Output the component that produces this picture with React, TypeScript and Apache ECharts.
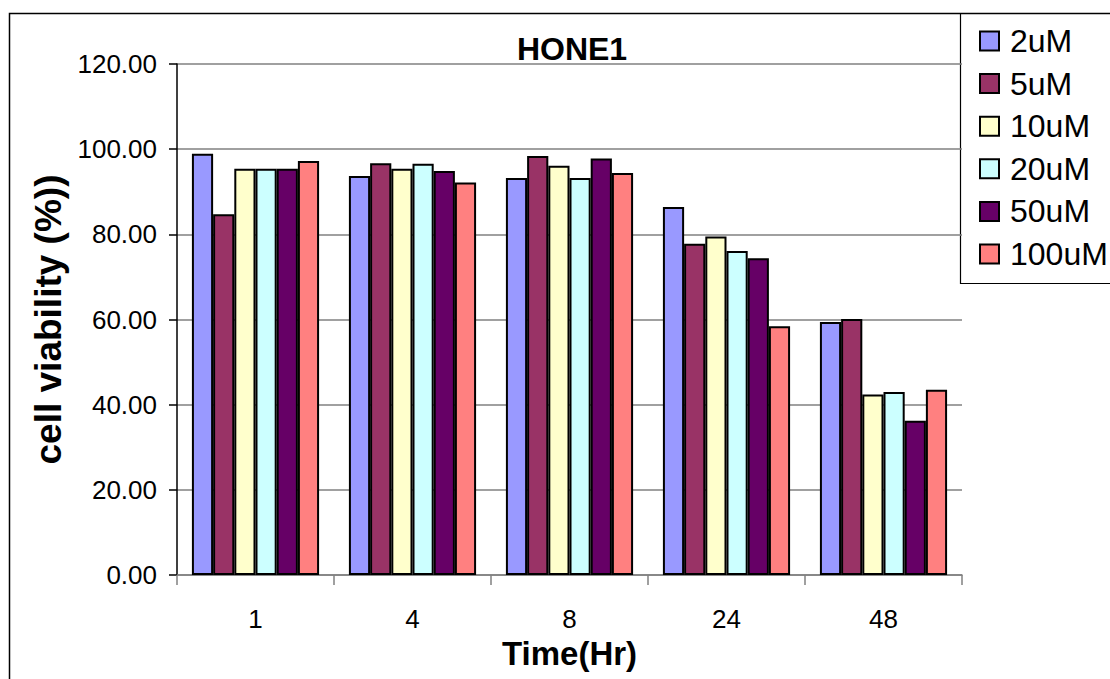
import React, { useEffect, useRef } from "react";
import * as echarts from "echarts";

const categories = ["1", "4", "8", "24", "48"];
const seriesNames = ["2uM", "5uM", "10uM", "20uM", "50uM", "100uM"];
const v2uM = [98.9, 93.7, 93.2, 86.4, 59.4];
const v5uM = [84.7, 96.7, 98.4, 77.8, 60.1];
const v10uM = [95.4, 95.4, 96.1, 79.5, 42.4];
const v20uM = [95.4, 96.6, 93.2, 76.1, 43.0];
const v50uM = [95.4, 94.9, 97.8, 74.4, 36.2];
const v100uM = [97.2, 92.2, 94.4, 58.4, 43.5];
const colors = ["#9999FF", "#993366", "#FFFFCC", "#CCFFFF", "#660066", "#FF8080"];

const FONT = "'Liberation Sans', Arial, sans-serif";

export default function App() {
  const ref = useRef<HTMLDivElement>(null);
  useEffect(() => {
    if (!ref.current) return;
    const chart = echarts.init(ref.current, undefined, { renderer: "svg" });
    const values = [v2uM, v5uM, v10uM, v20uM, v50uM, v100uM];
    chart.setOption({
      animation: false,
      backgroundColor: "#ffffff",
      textStyle: { fontFamily: FONT },
      title: {
        text: "HONE1",
        left: 567,
        top: 28,
        textAlign: "center",
        textStyle: { fontFamily: FONT, fontWeight: "bold", fontSize: 32, color: "#000" },
      },
      grid: { left: 177, right: 148, top: 64, bottom: 104, containLabel: false },
      legend: {
        orient: "vertical",
        left: 979,
        top: 25,
        padding: 0,
        itemWidth: 19,
        itemHeight: 19,
        itemGap: 10.6,
        icon: "rect",
        itemStyle: { borderColor: "#000", borderWidth: 2 },
        textStyle: { fontFamily: FONT, fontSize: 32, color: "#000", lineHeight: 32, padding: [0, 0, 0, 6] },
        data: seriesNames,
      },
      xAxis: {
        type: "category",
        data: categories,
        name: "Time(Hr)",
        nameLocation: "middle",
        nameGap: 60,
        nameTextStyle: { fontFamily: FONT, fontWeight: "bold", fontSize: 33, color: "#000" },
        axisLine: { lineStyle: { color: "#808080", width: 1.5 } },
        axisTick: { show: true, length: 10, lineStyle: { color: "#808080", width: 1.5 } },
        axisLabel: { fontFamily: FONT, fontSize: 26, color: "#000", margin: 31 },
      },
      yAxis: {
        type: "value",
        min: 0,
        max: 120,
        interval: 20,
        name: "cell viability (%))",
        nameLocation: "middle",
        nameGap: 96,
        nameTextStyle: { fontFamily: FONT, fontWeight: "bold", fontSize: 37, color: "#000" },
        axisLine: { show: true, lineStyle: { color: "#000", width: 1.5 } },
        axisTick: { show: true, length: 8, lineStyle: { color: "#000", width: 1.5 } },
        axisLabel: {
          fontFamily: FONT,
          fontSize: 26,
          color: "#000",
          margin: 20,
          formatter: (v: number) => v.toFixed(2),
        },
        splitLine: { show: true, lineStyle: { color: "#808080", width: 1.5 } },
      },
      series: seriesNames.map((n, i) => ({
        name: n,
        type: "bar",
        data: values[i],
        barGap: "0%",
        barCategoryGap: "19%",
        itemStyle: { color: colors[i], borderColor: "#000", borderWidth: 2 },
      })),
      graphic: [
        {
          type: "rect",
          shape: { x: 9.5, y: 13.5, width: 1300, height: 900 },
          style: { fill: "none", stroke: "#000", lineWidth: 1.5 },
          silent: true,
        },
        {
          type: "rect",
          shape: { x: 960.5, y: 13.5, width: 300, height: 270 },
          style: { fill: "none", stroke: "#000", lineWidth: 1.2 },
          silent: true,
        },
      ],
    });
    return () => chart.dispose();
  }, []);
  return (
    <div
      ref={ref}
      style={{ position: "fixed", left: 0, top: 0, width: 1110, height: 679 }}
    />
  );
}
